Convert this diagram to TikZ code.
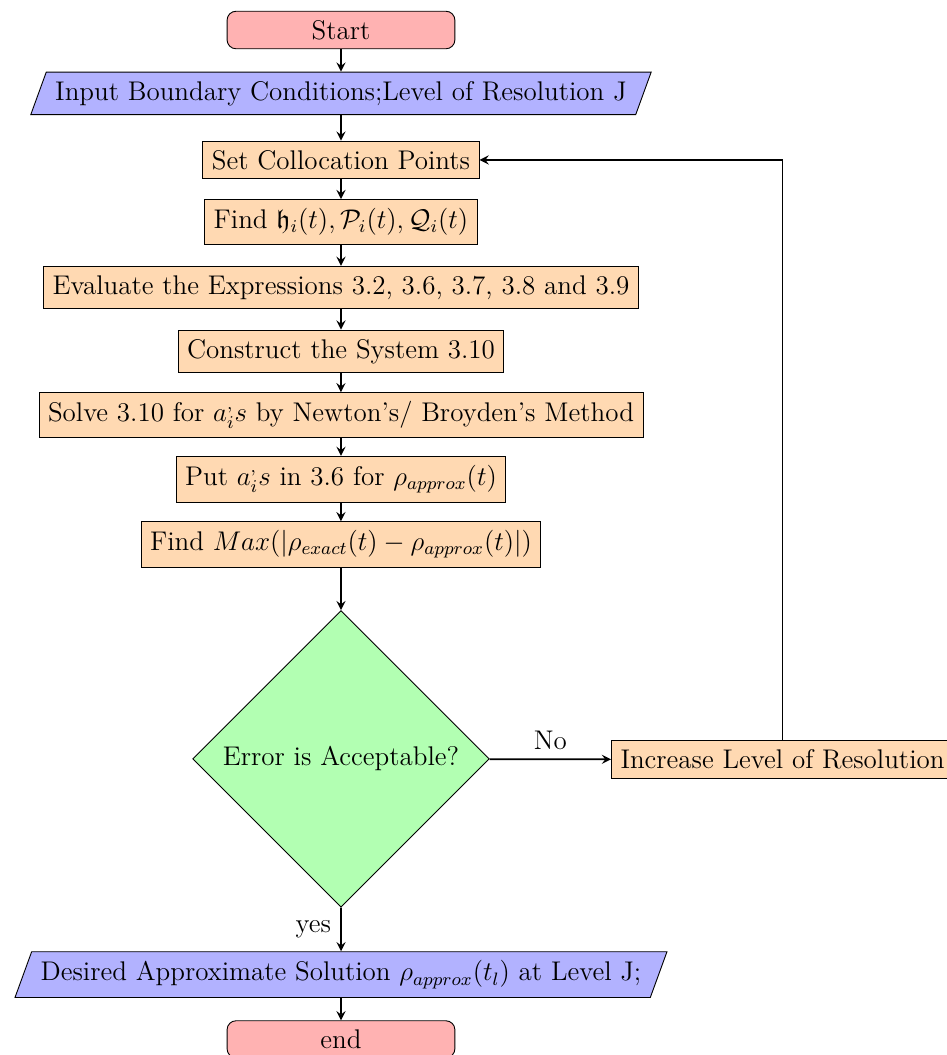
\documentclass[tikz,border=0pt,12pt]{standalone}
\usepackage{amssymb}
\usetikzlibrary{shapes.geometric,arrows}
\begin{document}
\begin{tikzpicture}[
  startstop/.style={rectangle, rounded corners, minimum width=3.56cm, minimum height=0.56cm, text centered, draw=black, fill=red!30},
  io/.style={trapezium, trapezium left angle=70, trapezium right angle=110, text centered, draw=black, fill=blue!30},
  process/.style={rectangle, text centered, draw=black, fill=orange!30},
  decision/.style={diamond, text centered, draw=black, fill=green!30},
  arrow/.style={thick,->,>=stealth}
]
\useasboundingbox (-5.328,0.469) rectangle (9.469,-16.016);
\node (start) [startstop] at (0,0) {Start};
\node (in1) [io] at (0,-0.99) {Input Boundary Conditions;Level of Resolution J};
\node (pro1) [process] at (0,-2.03) {Set Collocation Points};
\node (pro2) [process] at (0,-3) {Find $\mathfrak{h}_i(t), \mathcal{P}_i(t), \mathcal{Q}_i(t)$};
\node (pro3) [process] at (0,-4.02) {Evaluate the Expressions 3.2, 3.6, 3.7, 3.8 and 3.9};
\node (pro4) [process] at (0,-5.02) {Construct the System 3.10};
\node (pro5) [process] at (0,-6.02) {Solve 3.10 for $a_i^{,}s$ by Newton's/ Broyden's Method};
\node (pro6) [process] at (0,-7.02) {Put $a_i^{,}s$ in 3.6 for $\rho_{approx}(t)$};
\node (pro7) [process] at (0,-8.04) {Find $Max(|\rho_{exact}(t)-\rho_{approx}(t)|)$};
\node (dec1) [decision] at (0,-11.39) {Error is Acceptable?};
\node (pro8) [process, anchor=west] at (4.22,-11.40) {Increase Level of Resolution};
\node (out1) [io] at (0,-14.76) {Desired Approximate Solution $\rho_{approx}(t_l)$ at Level J;};
\node (stop) [startstop] at (0,-15.77) {end};
\draw [arrow] (start) -- (in1);
\draw [arrow] (in1) -- (pro1);
\draw [arrow] (pro1) -- (pro2);
\draw [arrow] (pro2) -- (pro3);
\draw [arrow] (pro3) -- (pro4);
\draw [arrow] (pro4) -- (pro5);
\draw [arrow] (pro5) -- (pro6);
\draw [arrow] (pro6) -- (pro7);
\draw [arrow] (pro7) -- (dec1);
\draw [arrow] (dec1) -- node[anchor=south] {No} (pro8);
\draw [arrow] (dec1) -- node[anchor=east] {yes} (out1);
\draw [arrow] (pro8.north) |- (pro1);
\draw [arrow] (out1) -- (stop);
\end{tikzpicture}
\end{document}
